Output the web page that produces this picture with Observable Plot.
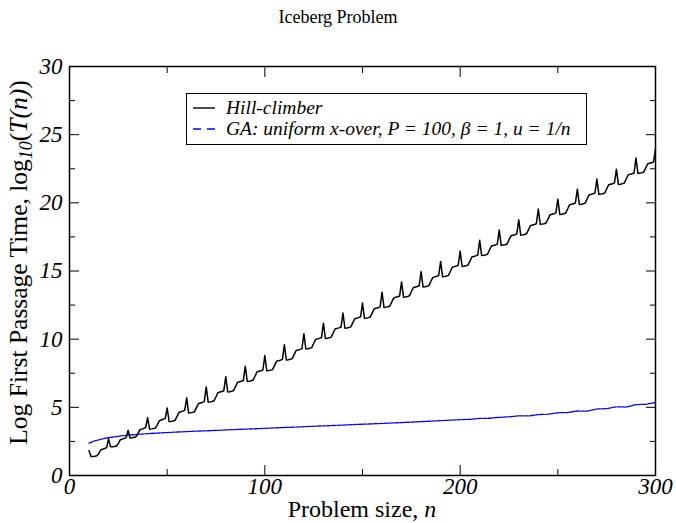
<!DOCTYPE html>
<html>
<head>
<meta charset="utf-8">
<script src="https://cdn.jsdelivr.net/npm/d3@7"></script>
<script src="https://cdn.jsdelivr.net/npm/@observablehq/plot@0.6"></script>
<style>
  body { margin: 0; background: #fff; }
  svg { display: block; }
</style>
</head>
<body>
<div id="chart"></div>
<script>
// Hill-climber: log10 first passage time for n = 10 .. 300 (one value per n)
const hcFirstN = 10;
const hillClimber = [
  1.81,
  1.39, 1.40, 1.42, 1.45, 1.62, 1.88, 1.93, 1.98, 2.05, 2.69,
  2.10, 2.11, 2.13, 2.16, 2.35, 2.62, 2.67, 2.72, 2.78, 3.30,
  2.75, 2.77, 2.80, 2.84, 3.05, 3.35, 3.40, 3.46, 3.52, 4.25,
  3.40, 3.42, 3.45, 3.49, 3.72, 4.02, 4.07, 4.12, 4.19, 4.95,
  3.95, 3.97, 4.00, 4.05, 4.32, 4.62, 4.67, 4.72, 4.80, 5.70,
  4.58, 4.60, 4.63, 4.68, 4.98, 5.28, 5.32, 5.36, 5.42, 6.50,
  5.38, 5.40, 5.43, 5.48, 5.78, 6.08, 6.12, 6.16, 6.22, 7.25,
  6.13, 6.15, 6.18, 6.23, 6.53, 6.83, 6.87, 6.91, 6.97, 8.02,
  6.90, 6.92, 6.95, 7.00, 7.30, 7.60, 7.64, 7.68, 7.74, 8.80,
  7.68, 7.70, 7.73, 7.78, 8.08, 8.38, 8.42, 8.46, 8.52, 9.59,
  8.47, 8.49, 8.52, 8.57, 8.87, 9.17, 9.21, 9.25, 9.31, 10.40,
  9.28, 9.30, 9.33, 9.38, 9.68, 9.98, 10.02, 10.06, 10.12, 11.17,
  10.05, 10.07, 10.10, 10.15, 10.45, 10.75, 10.79, 10.83, 10.89, 11.92,
  10.80, 10.82, 10.85, 10.90, 11.20, 11.50, 11.54, 11.58, 11.64, 12.65,
  11.53, 11.55, 11.58, 11.63, 11.93, 12.23, 12.27, 12.31, 12.37, 13.45,
  12.33, 12.35, 12.38, 12.43, 12.73, 13.03, 13.07, 13.11, 13.17, 14.20,
  13.08, 13.10, 13.13, 13.18, 13.48, 13.78, 13.82, 13.86, 13.92, 14.95,
  13.83, 13.85, 13.88, 13.93, 14.23, 14.53, 14.57, 14.61, 14.67, 15.70,
  14.58, 14.60, 14.63, 14.68, 14.98, 15.28, 15.32, 15.36, 15.42, 16.45,
  15.33, 15.35, 15.38, 15.43, 15.73, 16.03, 16.07, 16.11, 16.17, 17.25,
  16.13, 16.15, 16.18, 16.23, 16.53, 16.83, 16.87, 16.91, 16.97, 18.00,
  16.88, 16.90, 16.93, 16.98, 17.28, 17.58, 17.62, 17.66, 17.72, 18.75,
  17.63, 17.65, 17.68, 17.73, 18.03, 18.33, 18.37, 18.41, 18.47, 19.54,
  18.42, 18.44, 18.47, 18.52, 18.82, 19.12, 19.16, 19.20, 19.26, 20.27,
  19.15, 19.17, 19.20, 19.25, 19.55, 19.85, 19.89, 19.93, 19.99, 21.00,
  19.88, 19.90, 19.93, 19.98, 20.28, 20.58, 20.62, 20.66, 20.72, 21.74,
  20.62, 20.64, 20.67, 20.72, 21.02, 21.32, 21.36, 21.40, 21.46, 22.47,
  21.35, 21.37, 21.40, 21.45, 21.75, 22.05, 22.09, 22.13, 22.19, 23.28,
  22.16, 22.18, 22.21, 22.26, 22.56, 22.86, 22.90, 22.94, 23.00, 23.95
];

// GA (uniform crossover, P = 100, beta = 1, u = 1/n)
const gaN = [10, 12, 15, 18, 20, 25, 30, 35, 40, 45, 50, 55, 60, 65, 70, 75, 80, 85, 90, 95,
  100, 110, 120, 130, 140, 150, 160, 170, 180, 190, 200, 205, 210, 215, 220, 225, 230, 235,
  240, 245, 250, 255, 260, 265, 270, 275, 280, 285, 290, 295, 300];
const gaLog = [2.37, 2.50, 2.62, 2.72, 2.78, 2.88, 2.96, 3.02, 3.07, 3.11, 3.15, 3.19, 3.22, 3.25,
  3.28, 3.31, 3.34, 3.37, 3.40, 3.43, 3.46, 3.52, 3.58, 3.64, 3.70, 3.76, 3.82, 3.88, 3.95, 4.02,
  4.10, 4.12, 4.19, 4.20, 4.27, 4.30, 4.38, 4.37, 4.47, 4.50, 4.60, 4.62, 4.73, 4.72, 4.88, 4.90,
  5.04, 5.02, 5.20, 5.22, 5.35];

// Axis ticks
const xMajor = [0, 100, 200, 300];
const xMinor = [50, 150, 250];
const yMajor = [0, 5, 10, 15, 20, 25, 30];
const yMinor = [2.5, 7.5, 12.5, 17.5, 22.5, 27.5];

const hcData = hillClimber.map((v, i) => ({n: hcFirstN + i, v}));
const gaData = gaN.map((n, i) => ({n, v: gaLog[i]}));

const serif = "'Liberation Serif', 'DejaVu Serif', serif";
const W = 676, H = 523;
const M = {left: 69, right: 21, top: 66, bottom: 48};

const tickAxes = (anchorX, anchorY) => [
  Plot.axisX({anchor: anchorX, ticks: xMajor, tickSize: -10, fill: "none", label: null}),
  Plot.axisX({anchor: anchorX, ticks: xMinor, tickSize: -6, fill: "none", label: null}),
  Plot.axisY({anchor: anchorY, ticks: yMajor, tickSize: -10, fill: "none", label: null}),
  Plot.axisY({anchor: anchorY, ticks: yMinor, tickSize: -6, fill: "none", label: null})
];

const chart = Plot.plot({
  width: W,
  height: H,
  marginLeft: M.left,
  marginRight: M.right,
  marginTop: M.top,
  marginBottom: M.bottom,
  style: {fontFamily: serif, background: "#fff", overflow: "visible", color: "black"},
  x: {domain: [0, 300]},
  y: {domain: [0, 30]},
  marks: [
    ...tickAxes("bottom", "left"),
    ...tickAxes("top", "right"),
    // tick labels, italic
    Plot.text(xMajor, {x: d => d, frameAnchor: "bottom", dy: 18, fontSize: 23,
      fontStyle: "italic", fill: "black"}),
    Plot.text(yMajor, {y: d => d, frameAnchor: "left", dx: -7, textAnchor: "end", fontSize: 23,
      fontStyle: "italic", fill: "black"}),
    Plot.line(gaData, {x: "n", y: "v", stroke: "#0000ff", strokeWidth: 1.3, strokeDasharray: "4,1.2"}),
    Plot.line(hcData, {x: "n", y: "v", stroke: "black", strokeWidth: 1.5}),
    Plot.frame({stroke: "black", strokeWidth: 1.5})
  ]
});

document.getElementById("chart").append(chart);

const svg = d3.select(chart);
const addText = (parent) => parent.append("text")
  .style("font-family", serif)
  .attr("fill", "black");

// Title
addText(svg)
  .attr("x", W / 2).attr("y", 23)
  .attr("text-anchor", "middle")
  .style("font-size", "18px")
  .text("Iceberg Problem");

// X axis label
const xl = addText(svg)
  .attr("x", M.left + (W - M.left - M.right) / 2).attr("y", 517)
  .attr("text-anchor", "middle")
  .style("font-size", "24px");
xl.append("tspan").text("Problem size, ");
xl.append("tspan").style("font-style", "italic").text("n");

// Y axis label
const yl = addText(svg)
  .attr("transform", `translate(27,${M.top + (H - M.top - M.bottom) / 2 - 8}) rotate(-90)`)
  .attr("text-anchor", "middle")
  .style("font-size", "25.5px");
yl.append("tspan").text("Log First Passage Time, log");
yl.append("tspan").style("font-style", "italic").style("font-size", "18px").attr("dy", 5).text("10");
yl.append("tspan").attr("dy", -5).text("(");
yl.append("tspan").style("font-style", "italic").text("T(n)");
yl.append("tspan").text(")");

// Legend
const lg = svg.append("g");
lg.append("rect")
  .attr("x", 186.5).attr("y", 93.5).attr("width", 400).attr("height", 51)
  .attr("fill", "white").attr("stroke", "black").attr("stroke-width", 1);
lg.append("line").attr("x1", 193).attr("x2", 215).attr("y1", 108).attr("y2", 108)
  .attr("stroke", "black").attr("stroke-width", 1.4);
addText(lg).attr("x", 226).attr("y", 114).attr("text-anchor", "start")
  .style("font-size", "19.5px").style("font-style", "italic")
  .text("Hill-climber");
lg.append("line").attr("x1", 193).attr("x2", 216).attr("y1", 129).attr("y2", 129)
  .attr("stroke", "#0000ff").attr("stroke-width", 1.3).attr("stroke-dasharray", "8,6");
addText(lg).attr("x", 226).attr("y", 135).attr("text-anchor", "start")
  .style("font-size", "19.5px").style("font-style", "italic")
  .text("GA: uniform x-over, P = 100, \u03B2 = 1, u = 1/n");
</script>
</body>
</html>
